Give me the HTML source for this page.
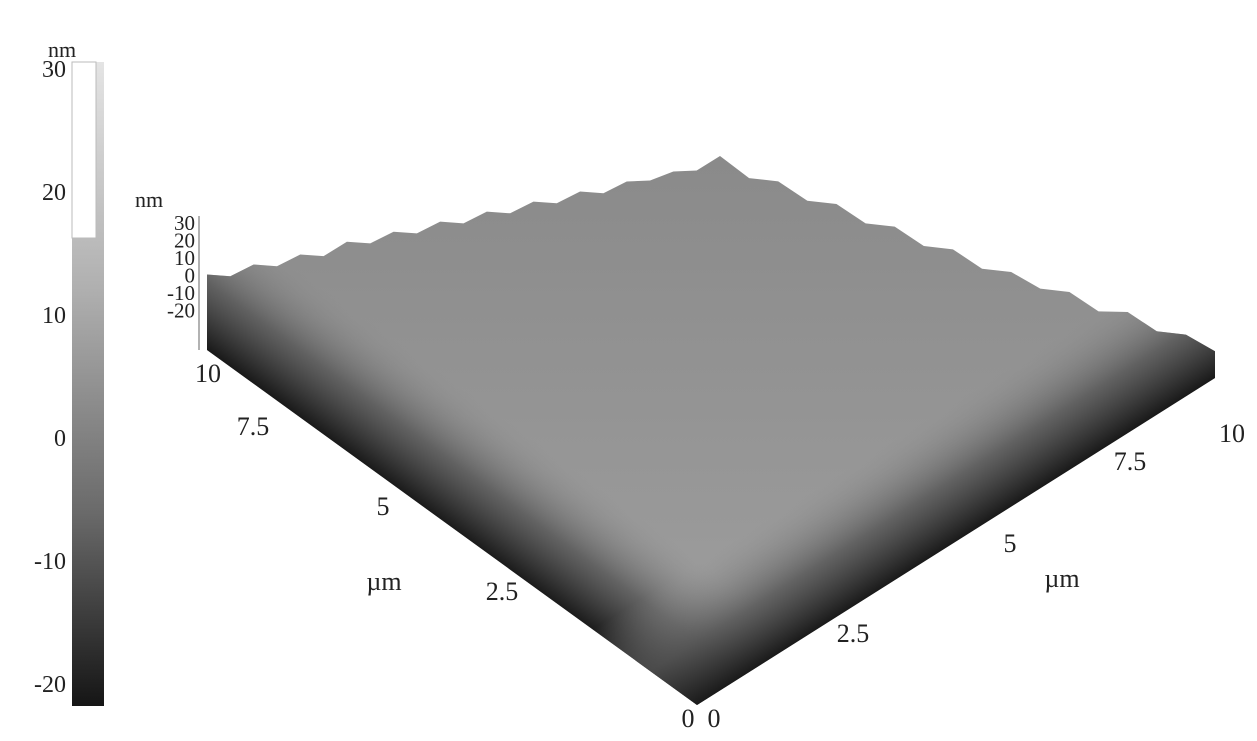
<!DOCTYPE html>
<html><head><meta charset="utf-8"><style>
html,body{margin:0;padding:0;background:#fff;width:1257px;height:741px;overflow:hidden}
svg{display:block}
text{font-family:"Liberation Serif",serif;fill:#222}
</style></head><body>
<svg width="1257" height="741" viewBox="0 0 1257 741">
<defs>
<linearGradient id="cb" x1="0" y1="0" x2="0" y2="1">
<stop offset="0" stop-color="#e4e4e4"/><stop offset="0.35" stop-color="#b0b0b0"/><stop offset="0.7" stop-color="#6a6a6a"/><stop offset="1" stop-color="#151515"/>
</linearGradient>
<linearGradient id="lf" gradientUnits="userSpaceOnUse" x1="452" y1="528" x2="523" y2="431">
<stop offset="0" stop-color="#1a1a1a"/><stop offset="0.45" stop-color="#555" stop-opacity="0.8"/><stop offset="1" stop-color="#909090" stop-opacity="0"/>
</linearGradient>
<linearGradient id="rf" gradientUnits="userSpaceOnUse" x1="956" y1="541" x2="892" y2="440">
<stop offset="0" stop-color="#1a1a1a"/><stop offset="0.45" stop-color="#555" stop-opacity="0.8"/><stop offset="1" stop-color="#909090" stop-opacity="0"/>
</linearGradient>
<linearGradient id="top" x1="0" y1="0" x2="0" y2="1">
<stop offset="0" stop-color="#8a8a8a"/><stop offset="1" stop-color="#a0a0a0"/>
</linearGradient>
<clipPath id="clipS"><polygon id="clipPoly" points="0,0"/></clipPath>
</defs>
<g id="colorbar">
<rect x="72" y="62" width="32" height="644" fill="url(#cb)"/>
<rect x="72" y="62" width="24" height="176" fill="#fff" stroke="#bbb"/>
<text x="48" y="57" font-size="22">nm</text>
</g>
<g id="surface"></g>
<g id="labels"></g>
<script>
const cbTicks=["30","20","10","0","-10","-20"];
const cbTickY=[30,20,10,0,-10,-20];
const zTicks=["30","20","10","0","-10","-20"];
const xTicks=["0","2.5","5","7.5","10"];
const yTicks=["0","2.5","5","7.5","10"];
// heights (nm) along back-left and back-right edges of surface
const backLeft=[8,6,9,7,10,8,12,10,13,11,14,12,15,13,16,14,17,15,18,17,19,18,22];
const backRight=[22,17,19,15,17,13,15,11,13,9,11,8,10,6,9,5,7,4];
const NS="http://www.w3.org/2000/svg";
function el(t,a,p){const e=document.createElementNS(NS,t);for(const k in a)e.setAttribute(k,a[k]);p.appendChild(e);return e;}
const cbY=v=>438-(v)*12.3;
const cb=document.getElementById('colorbar');
cbTickY.forEach((v,i)=>{const t=el('text',{x:66,y:cbY(v)+8,'font-size':24,'text-anchor':'end'},cb);t.textContent=cbTicks[i];

});
const L=[207,350],F=[697,705],R=[1215,378];
const BL=[207,296],BK=[720,215],BR=[1215,362];
const hz=2.68;
const s=document.getElementById('surface');
let pts=[L,F,R];
backRight.slice().reverse().forEach((h,i,a)=>{const f=i/(a.length-1);pts.push([BR[0]+(BK[0]-BR[0])*f,BR[1]+(BK[1]-BR[1])*f-h*hz]);});
backLeft.slice().reverse().forEach((h,i,a)=>{const f=i/(a.length-1);pts.push([BK[0]+(BL[0]-BK[0])*f,BK[1]+(BL[1]-BK[1])*f-h*hz]);});
const ptsStr=pts.map(p=>p.join(',')).join(' ');
document.getElementById('clipPoly').setAttribute('points',ptsStr);
const poly=el('polygon',{points:ptsStr,fill:'url(#top)'},s);


const g=el('g',{'clip-path':'url(#clipS)'},s);
const lf=el('polygon',{points:'150,330 700,735 760,735 800,610 240,200',fill:'url(#lf)'},g);


const rf=el('polygon',{points:'600,735 720,735 1250,390 1250,330 1150,210 480,620',fill:'url(#rf)'},g);


const lb=document.getElementById('labels');
function tx(x,y,str,sz,anc,name){const t=el('text',{x:x,y:y,'font-size':sz,'text-anchor':anc||'middle'},lb);t.textContent=str;

}
tx(135,207,'nm',22,'start','z-axis-unit');
zTicks.forEach((v,i)=>tx(195,230+i*17.5,v,21,'end','z-tick-label'));
el('line',{x1:199,y1:216,x2:199,y2:350,stroke:'#999','stroke-width':1.5},lb);
const yPos=[[688,727],[502,600],[383,515],[253,435],[208,382]];
yTicks.forEach((v,i)=>tx(yPos[i][0],yPos[i][1],v,26,'middle','y-tick-label'));
const xPos=[[714,727],[853,642],[1010,552],[1130,470],[1232,442]];
xTicks.forEach((v,i)=>tx(xPos[i][0],xPos[i][1],v,26,'middle','x-tick-label'));
tx(384,590,'µm',26,'middle','y-axis-title');
tx(1062,587,'µm',26,'middle','x-axis-title');
</script>
</svg>
</body></html>
